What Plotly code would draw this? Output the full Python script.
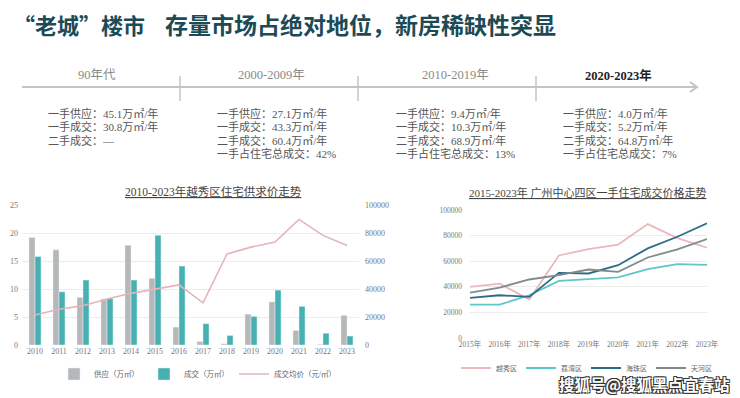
import plotly.graph_objects as go

W, H = 740, 398


def px(x):
    return x / W


def py(y):
    return 1 - y / H


SERIF = "Liberation Serif, Noto Sans CJK SC"
SANS = "Noto Sans CJK SC"

# ---------------- data ----------------
title_part1 = "“老城”楼市"
title_part2 = "存量市场占绝对地位，新房稀缺性突显"

periods = ["90年代", "2000-2009年", "2010-2019年", "2020-2023年"]
period_lines = [
    ["一手供应：45.1万㎡/年", "一手成交：30.8万㎡/年", "二手成交：—"],
    ["一手供应：27.1万㎡/年", "一手成交：43.3万㎡/年", "二手成交：60.4万㎡/年", "一手占住宅总成交：42%"],
    ["一手供应：9.4万㎡/年", "一手成交：10.3万㎡/年", "二手成交：68.9万㎡/年", "一手占住宅总成交：13%"],
    ["一手供应：4.0万㎡/年", "一手成交：5.2万㎡/年", "二手成交：64.8万㎡/年", "一手占住宅总成交：7%"],
]

left_title = "2010-2023年越秀区住宅供求价走势"
years_left = ["2010", "2011", "2012", "2013", "2014", "2015", "2016",
              "2017", "2018", "2019", "2020", "2021", "2022", "2023"]
supply = [19.2, 17.0, 8.5, 8.2, 17.8, 11.9, 3.2, 0.6, 0.2, 5.5, 7.7, 2.6, 0.1, 5.3]
deal = [15.8, 9.5, 11.6, 8.3, 11.6, 19.6, 14.1, 3.8, 1.7, 5.1, 9.8, 6.9, 2.1, 1.6]
avg_price = [21400, 25500, 28100, 32900, 36900, 39800, 42900, 30100,
             65000, 69900, 73500, 89700, 78300, 71100]
left_names = ["供应（万㎡）", "成交（万㎡）", "成交均价（元/㎡）"]

right_title = "2015-2023年 广州中心四区一手住宅成交价格走势"
years_right = ["2015年", "2016年", "2017年", "2018年", "2019年",
               "2020年", "2021年", "2022年", "2023年"]
yuexiu = [40000, 42500, 30000, 64500, 69500, 73000, 89000, 78000, 70500]
liwan = [26100, 26100, 33400, 44600, 46000, 47300, 53800, 57700, 57200]
haizhu = [31300, 33400, 32100, 50900, 50400, 56900, 70000, 79100, 89600]
tianhe = [35500, 39400, 45700, 49100, 53500, 51700, 62900, 69200, 77300]
right_names = ["越秀区", "荔湾区", "海珠区", "天河区"]

watermark = "搜狐号@搜狐黑点宜春站"

# ---------------- figure ----------------
fig = go.Figure()

fig.add_trace(go.Bar(x=years_left, y=supply, name=left_names[0],
                     marker_color="#b5b8b8", xaxis="x", yaxis="y", legend="legend"))
fig.add_trace(go.Bar(x=years_left, y=deal, name=left_names[1],
                     marker_color="#45b1b1", xaxis="x", yaxis="y", legend="legend"))
fig.add_trace(go.Scatter(x=years_left, y=avg_price, name=left_names[2], mode="lines",
                         line=dict(color="#e6b3b7", width=1.6),
                         xaxis="x", yaxis="y2", legend="legend"))

right_colors = ["#e9b9bd", "#5ec6c9", "#2b6d88", "#808a8c"]
for name, vals, col in zip(right_names, [yuexiu, liwan, haizhu, tianhe], right_colors):
    fig.add_trace(go.Scatter(x=years_right, y=vals, name=name, mode="lines",
                             line=dict(color=col, width=1.8),
                             xaxis="x3", yaxis="y3", legend="legend2"))

tickfont = dict(family=SERIF, size=8, color="#777777")
tickfont_r = dict(family=SERIF, size=7.5, color="#777777")

fig.update_layout(
    width=W, height=H,
    margin=dict(l=0, r=0, t=0, b=0, autoexpand=False),
    paper_bgcolor="white", plot_bgcolor="white",
    barmode="group", bargap=0.5, bargroupgap=0,
    xaxis=dict(domain=[px(23), px(359)], anchor="y", type="category",
               tickfont=tickfont, showline=False, ticks="", showgrid=False,
               tickangle=0, automargin=False),
    yaxis=dict(domain=[py(345), py(205)], anchor="x", range=[0, 25], dtick=5,
               tickfont=tickfont, gridcolor="#ececec", zeroline=False,
               showline=False, ticklabelstandoff=4, automargin=False),
    yaxis2=dict(overlaying="y", side="right", anchor="x", range=[0, 100000],
                dtick=20000, tickformat="d", tickfont=tickfont, showgrid=False,
                zeroline=False, showline=False, ticklabelstandoff=5,
                automargin=False),
    xaxis3=dict(domain=[px(470), px(707)], anchor="y3", type="category",
                tickfont=tickfont_r, showline=False, ticks="", showgrid=False,
                tickangle=0, automargin=False),
    yaxis3=dict(domain=[py(338), py(210)], anchor="x3", range=[0, 100000],
                dtick=20000, tickformat="d", tickfont=tickfont_r, gridcolor="#ececec",
                zeroline=False, showline=False, ticklabelstandoff=7,
                automargin=False),
    legend=dict(orientation="h", x=px(198), xanchor="center", y=py(374),
                yanchor="middle", font=dict(family=SERIF, size=7.5, color="#666"),
                itemwidth=30, bgcolor="rgba(0,0,0,0)"),
    legend2=dict(orientation="h", x=px(586), xanchor="center", y=py(368),
                 yanchor="middle", font=dict(family=SERIF, size=7, color="#666"),
                 itemwidth=30, entrywidth=20, entrywidthmode="pixels",
                 bgcolor="rgba(0,0,0,0)"),
    showlegend=True,
)

annotations = []


def ann(text, x, y, xanchor, font):
    annotations.append(dict(text=text, x=px(x), y=py(y), xref="paper", yref="paper",
                            xanchor=xanchor, yanchor="middle", showarrow=False,
                            font=font, borderpad=0))


# main title
ann(f"<b>{title_part1}</b>", 146, 24, "right", dict(family=SANS, size=22, color="#1c4a55"))
ann(f"<b>{title_part2}</b>", 164, 24, "left", dict(family=SANS, size=23, color="#1c4a55"))

# timeline labels and text blocks
label_cx = [97, 271, 455, 618]
block_left = [47, 216, 395, 562]
line_y = [113, 126.5, 140, 153.5]
for i, (p, lines) in enumerate(zip(periods, period_lines)):
    last = i == len(periods) - 1
    ann(f"<b>{p}</b>" if last else p, label_cx[i], 75, "center",
        dict(family=SERIF, size=12.5, color="#222222" if last else "#8a8a8a"))
    for j, ln in enumerate(lines):
        ann(ln, block_left[i], line_y[j], "left",
            dict(family=SERIF, size=11, color="#555555"))

# chart titles
ann(f"<u>{left_title}</u>", 213, 191, "center",
    dict(family=SERIF, size=11.5, color="#444444"))
ann(f"<u>{right_title}</u>", 587, 192, "center",
    dict(family=SERIF, size=11, color="#444444"))

# watermark
ann(f"<b>{watermark}</b>", 644, 384, "center",
    dict(family=SANS, size=15.5, color="white",
         shadow="1px 1px 0 #333, -1px -1px 0 #333, 1px -1px 0 #333, -1px 1px 0 #333"))

fig.update_layout(annotations=annotations)

# timeline decoration
shapes = [
    dict(type="line", xref="paper", yref="paper", x0=px(22), x1=px(697),
         y0=py(87), y1=py(87), line=dict(color="#c4c4c4", width=2)),
    dict(type="path", xref="paper", yref="paper",
         path=f"M {px(690)} {py(82)} L {px(697)} {py(87)} L {px(690)} {py(92)}",
         line=dict(color="#c4c4c4", width=2)),
]
for xv in [180, 358, 536]:
    shapes.append(dict(type="line", xref="paper", yref="paper", x0=px(xv), x1=px(xv),
                       y0=py(76), y1=py(101), line=dict(color="#c4c4c4", width=1.5)))
fig.update_layout(shapes=shapes)

fig.write_html("out.html", config={"displayModeBar": False},
               post_script="document.body.style.margin='0';")
